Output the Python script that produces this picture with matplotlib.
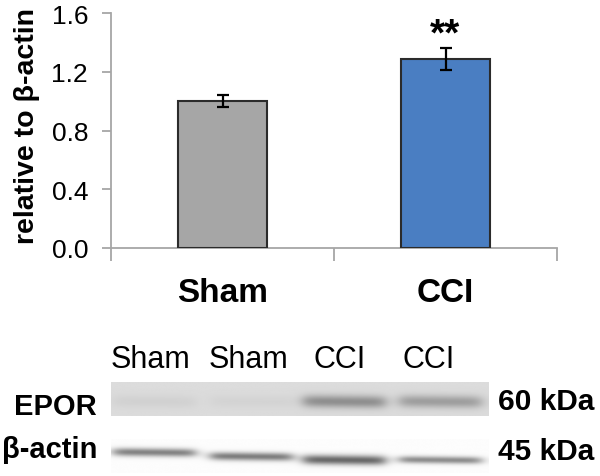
import numpy as np
import matplotlib
matplotlib.use("Agg")
import matplotlib.pyplot as plt
from matplotlib.ticker import FixedLocator

plt.rcParams['font.family'] = ['Liberation Sans', 'DejaVu Sans']

# ---------------- data ----------------
groups = ["Sham", "CCI"]
values = [1.00, 1.29]
errors = [0.04, 0.075]
bar_colors = ["#a6a6a6", "#4a7ec2"]
yticks = [0.0, 0.4, 0.8, 1.2, 1.6]
ylabel = "relative to β-actin"
signif = ["", "**"]

lane_labels = ["Sham", "Sham", "CCI", "CCI"]
epor_intensity = [0.04, 0.03, 0.30, 0.24]
actin_intensity = [0.48, 0.50, 0.58, 0.44]
row_labels = ["EPOR", "β-actin"]
size_labels = ["60 kDa", "45 kDa"]

W, H = 600, 477
fig = plt.figure(figsize=(6.0, 4.77), dpi=100)

def fx(px):
    return px / W

def fy(py):
    return 1 - py / H

# ---------------- bar chart ----------------
ax = fig.add_axes([fx(111), fy(249), fx(557) - fx(111), fy(14) - fy(249)])
xpos = [0.5, 1.5]
ax.bar(xpos, values, width=0.395, color=bar_colors, edgecolor="#2b2b2b",
       linewidth=1.5, zorder=3)
ax.errorbar(xpos, values, yerr=errors, fmt="none", ecolor="black",
            elinewidth=1.6, capsize=4, capthick=1.6, zorder=4)
for x, v, e, s in zip(xpos, values, errors, signif):
    if s:
        ax.text(x, v + e + 0.09, s, ha="center", va="center",
                fontsize=28, fontweight="bold")
ax.set_xlim(0, 2)
ax.set_ylim(0, 1.6)
ax.set_yticks(yticks)
ax.set_yticklabels([f"{t:.1f}" for t in yticks], fontsize=19)
ax.set_xticks(xpos)
ax.set_xticklabels(groups, fontsize=24, fontweight="bold")
ax.xaxis.set_minor_locator(FixedLocator([0, 1, 2]))
ax.tick_params(axis="x", which="major", length=0, pad=21)
ax.tick_params(axis="x", which="minor", length=9, width=1.3, color="#a6a6a6",
               direction="out")
ax.tick_params(axis="y", length=6.5, width=1.3, color="#a6a6a6", pad=10)
for sp in ["top", "right"]:
    ax.spines[sp].set_visible(False)
for sp in ["left", "bottom"]:
    ax.spines[sp].set_color("#a6a6a6")
    ax.spines[sp].set_linewidth(1.3)
fig.text(fx(27), fy(126), ylabel, rotation=90, ha="center", va="center",
         fontsize=20.5, fontweight="bold")

# ---------------- western blot ----------------
lane_centers = [0.456, 1.485, 2.47, 3.49]
half_w = 0.435

def lane_profile(xs, c):
    s = 0.04
    return 1 / (1 + np.exp(-(xs - (c - half_w)) / s)) / (1 + np.exp((xs - (c + half_w)) / s))

def blot(intensities, bg, yc_list, sig_list, nrows):
    xs = np.linspace(0, 4, 400)
    ys = np.linspace(0, 1, nrows)
    img = np.full((nrows, xs.size), bg)
    for c, a, yc, sg in zip(lane_centers, intensities, yc_list, sig_list):
        slope = (xs - c) * 0.03
        prof_y = np.exp(-0.5 * ((ys[:, None] - yc - slope[None, :]) / sg) ** 2)
        img -= a * prof_y * lane_profile(xs, c)[None, :]
    return img

bx0, bx1 = 111, 488
# EPOR
ax_e = fig.add_axes([fx(bx0), fy(417), fx(bx1) - fx(bx0), fy(383) - fy(417)])
img_e = blot(epor_intensity, 0.86, [0.59] * 4, [0.13] * 4, 68)
ax_e.imshow(img_e, cmap="gray", vmin=0, vmax=1, aspect="auto",
            extent=[0, 4, 1, 0], interpolation="bilinear")
ax_e.axis("off")
# actin
ax_a = fig.add_axes([fx(bx0), fy(474), fx(bx1) - fx(bx0), fy(440) - fy(474)])
img_a = blot(actin_intensity, 0.99, [0.41, 0.53, 0.63, 0.63],
             [0.085, 0.085, 0.10, 0.075], 68)
ax_a.imshow(img_a, cmap="gray", vmin=0, vmax=1, aspect="auto",
            extent=[0, 4, 1, 0], interpolation="bilinear")
ax_a.axis("off")

lane_label_px = [150, 248, 340, 429]
for lab, px in zip(lane_labels, lane_label_px):
    fig.text(fx(px), fy(360), lab, ha="center", va="center", fontsize=22)

fig.text(fx(97), fy(407), row_labels[0], ha="right", va="center",
         fontsize=21, fontweight="bold")
fig.text(fx(97), fy(450), row_labels[1], ha="right", va="center",
         fontsize=21, fontweight="bold")
fig.text(fx(498), fy(402), size_labels[0], ha="left", va="center",
         fontsize=21.5, fontweight="bold")
fig.text(fx(498), fy(452), size_labels[1], ha="left", va="center",
         fontsize=21.5, fontweight="bold")

fig.savefig("out.png", dpi=100)
